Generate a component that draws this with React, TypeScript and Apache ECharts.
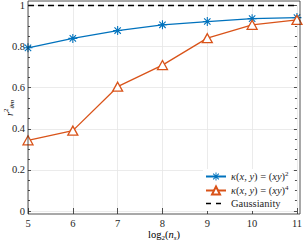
import React, { useEffect, useRef } from "react";
import * as echarts from "echarts";

const xVals = [5, 6, 7, 8, 9, 10, 11];
const kappa2 = [0.794, 0.84, 0.878, 0.906, 0.922, 0.936, 0.941];
const kappa4 = [0.344, 0.391, 0.605, 0.71, 0.841, 0.906, 0.93];
const gaussianity = [1, 1, 1, 1, 1, 1, 1];
const seriesNames = ["k2", "k4", "Gaussianity"];

const FONT = "Liberation Serif";
const AX = "#262626";
const GRID = "#e6e6e6";

const asterisk =
  "path://M-1 -0.12 L1 -0.12 L1 0.12 L-1 0.12 Z " +
  "M-0.12 -1 L0.12 -1 L0.12 1 L-0.12 1 Z " +
  "M-0.792 -0.622 L-0.622 -0.792 L0.792 0.622 L0.622 0.792 Z " +
  "M-0.792 0.622 L0.622 -0.792 L0.792 -0.622 L-0.622 0.792 Z";

const rich = {
  r: { fontFamily: FONT, fontSize: 10.5, color: AX, lineHeight: 13 },
  i: { fontFamily: FONT, fontSize: 10.5, fontStyle: "italic", color: AX, lineHeight: 13 },
  sup: { fontFamily: FONT, fontSize: 7, color: AX, verticalAlign: "top", lineHeight: 13 },
  sub: { fontFamily: FONT, fontSize: 7, color: AX, verticalAlign: "bottom", lineHeight: 13 },
  subi: { fontFamily: FONT, fontSize: 7, fontStyle: "italic", color: AX, verticalAlign: "bottom", lineHeight: 13 },
};

const legendLabels: Record<string, string> = {
  k2: "{i|κ}{r|(}{i|x}{r|, }{i|y}{r|) = (}{i|xy}{r|)}{sup|2}",
  k4: "{i|κ}{r|(}{i|x}{r|, }{i|y}{r|) = (}{i|xy}{r|)}{sup|4}",
  Gaussianity: "{r|Gaussianity}",
};

export default function App() {
  const ref = useRef<HTMLDivElement>(null);
  useEffect(() => {
    if (!ref.current) return;
    const chart = echarts.init(ref.current, null, { renderer: "svg" });
    const tickCommon = {
      axisLine: { show: false },
      axisTick: { show: true, inside: true, length: 3, lineStyle: { color: AX, width: 0.8 } },
    };
    chart.setOption({
      animation: false,
      grid: { left: 28, right: 5, top: 4.5, bottom: 29, containLabel: false },
      xAxis: [
        {
          type: "value",
          min: 5,
          max: 11,
          interval: 1,
          position: "bottom",
          offset: 3,
          ...tickCommon,
          axisLabel: { margin: 4, fontFamily: FONT, fontSize: 10.5, color: AX, showMaxLabel: true, showMinLabel: true },
          splitLine: { show: true, lineStyle: { color: GRID, width: 0.8 } },
        },
        {
          type: "value",
          min: 5,
          max: 11,
          interval: 1,
          position: "top",
          offset: 3.5,
          ...tickCommon,
          axisLabel: { show: false },
          splitLine: { show: false },
        },
      ],
      yAxis: [
        {
          type: "value",
          min: 0,
          max: 1,
          interval: 0.2,
          position: "left",
          ...tickCommon,
          minorTick: { show: true, splitNumber: 4, length: 2, lineStyle: { color: AX, width: 0.8 } },
          axisLabel: { margin: 3, fontFamily: FONT, fontSize: 10.5, color: AX },
          splitLine: { show: true, lineStyle: { color: GRID, width: 0.8 } },
        },
        {
          type: "value",
          min: 0,
          max: 1,
          interval: 0.2,
          position: "right",
          ...tickCommon,
          minorTick: { show: true, splitNumber: 4, length: 2, lineStyle: { color: AX, width: 0.8 } },
          axisLabel: { show: false },
          splitLine: { show: false },
        },
      ],
      legend: {
        orient: "vertical",
        left: 203,
        top: 169,
        itemWidth: 20,
        itemHeight: 10,
        itemGap: 2,
        padding: [1, 4, 2, 2],
        backgroundColor: "#ffffff",
        data: [
          { name: seriesNames[0] },
          { name: seriesNames[1] },
          {
            name: seriesNames[2],
            itemStyle: { opacity: 0 },
            lineStyle: { type: [5, 5], width: 1.5, color: "#000000" },
          },
        ],
        formatter: (name: string) => legendLabels[name],
        textStyle: { fontFamily: FONT, fontSize: 10.5, color: AX, rich },
      },
      series: [
        {
          name: seriesNames[0],
          type: "line",
          clip: false,
          data: xVals.map((x, i) => [x, kappa2[i]]),
          symbol: asterisk,
          symbolSize: 9,
          lineStyle: { color: "#0072BD", width: 1.3 },
          itemStyle: { color: "#0072BD" },
          z: 3,
        },
        {
          name: seriesNames[1],
          type: "line",
          clip: false,
          data: xVals.map((x, i) => [x, kappa4[i]]),
          symbol: "triangle",
          symbolSize: [10, 9],
          lineStyle: { color: "#D95319", width: 1.3 },
          itemStyle: { color: "#ffffff", borderColor: "#D95319", borderWidth: 1.3 },
          z: 4,
        },
        {
          name: seriesNames[2],
          type: "line",
          clip: false,
          data: xVals.map((x, i) => [x, gaussianity[i]]),
          symbol: "none",
          lineStyle: { color: "#000000", width: 1.5, type: [6, 4] },
          itemStyle: { color: "#000000" },
          z: 2,
        },
      ],
      graphic: [
        {
          type: "rect",
          shape: { x: 28, y: 1, width: 272, height: 213 },
          style: { fill: "none", stroke: AX, lineWidth: 0.8 },
          z: 10,
          silent: true,
        },
        {
          type: "text",
          x: 164,
          y: 234.5,
          style: {
            text: "{r|log}{sub|2}{r|(}{i|n}{subi|s}{r|)}",
            rich,
            align: "center",
            verticalAlign: "middle",
          },
        },
        {
          type: "text",
          x: 9,
          y: 108,
          rotation: Math.PI / 2,
          style: {
            text: "{i|r}{sup|2}{subi|θm}",
            rich,
            align: "center",
            verticalAlign: "middle",
          },
        },
      ],
    });
    return () => chart.dispose();
  }, []);
  return (
    <div
      ref={ref}
      style={{ position: "absolute", left: 0, top: 0, width: 305, height: 240 }}
    />
  );
}
